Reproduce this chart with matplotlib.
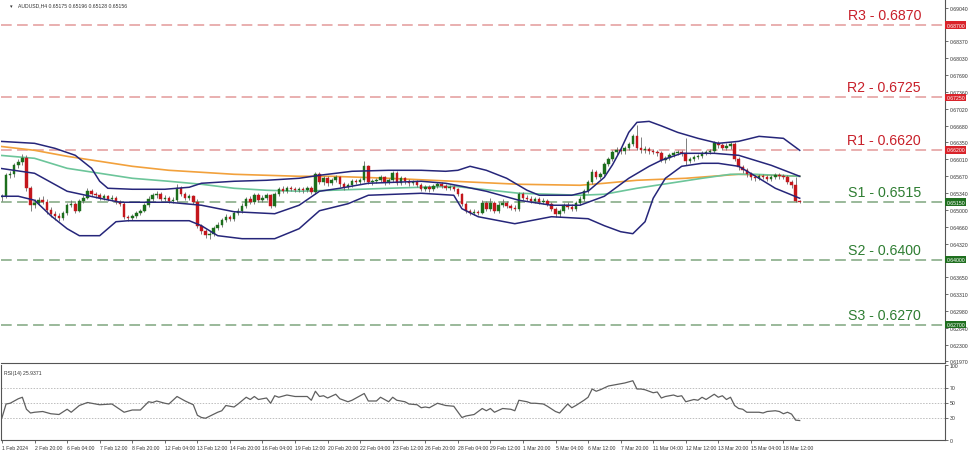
import matplotlib
matplotlib.use('Agg')
import matplotlib.pyplot as plt
import matplotlib.transforms as mtransforms

plt.rcParams['font.family'] = ['Liberation Sans', 'DejaVu Sans']

symbol = 'AUDUSD,H4'
last_ohlc = ['0.65175', '0.65196', '0.65128', '0.65156']
rsi_title = 'RSI(14) 25.9371'

opens = [0.6525, 0.6527, 0.6569, 0.6571, 0.6589, 0.6595, 0.6603, 0.6543, 0.6510, 0.6514,
         0.6520, 0.6516, 0.6500, 0.6492, 0.6488, 0.6484, 0.6494, 0.6510, 0.6512, 0.6498,
         0.6518, 0.6524, 0.6537, 0.6531, 0.6529, 0.6524, 0.6527, 0.6522, 0.6524, 0.6516,
         0.6512, 0.6486, 0.6484, 0.6488, 0.6494, 0.6498, 0.6510, 0.6522, 0.6529, 0.6531,
         0.6522, 0.6524, 0.6518, 0.6520, 0.6543, 0.6531, 0.6524, 0.6527, 0.6516, 0.6468,
         0.6458, 0.6450, 0.6452, 0.6464, 0.6470, 0.6480, 0.6486, 0.6482, 0.6494, 0.6498,
         0.6508, 0.6522, 0.6516, 0.6529, 0.6520, 0.6524, 0.6529, 0.6508, 0.6531, 0.6541,
         0.6537, 0.6543, 0.6541, 0.6539, 0.6541, 0.6539, 0.6543, 0.6535, 0.6571, 0.6555,
         0.6563, 0.6553, 0.6559, 0.6565, 0.6551, 0.6545, 0.6549, 0.6557, 0.6555, 0.6559,
         0.6587, 0.6555, 0.6557, 0.6559, 0.6565, 0.6555, 0.6559, 0.6573, 0.6553, 0.6563,
         0.6557, 0.6553, 0.6555, 0.6549, 0.6541, 0.6545, 0.6541, 0.6547, 0.6551, 0.6547,
         0.6543, 0.6545, 0.6541, 0.6531, 0.6512, 0.6498, 0.6494, 0.6496, 0.6494, 0.6514,
         0.6502, 0.6514, 0.6498, 0.6510, 0.6514, 0.6508, 0.6504, 0.6502, 0.6531, 0.6524,
         0.6522, 0.6518, 0.6522, 0.6516, 0.6518, 0.6512, 0.6502, 0.6492, 0.6498, 0.6510,
         0.6506, 0.6502, 0.6514, 0.6522, 0.6537, 0.6555, 0.6575, 0.6565, 0.6571, 0.6591,
         0.6601, 0.6615, 0.6619, 0.6617, 0.6623, 0.6631, 0.6647, 0.6623, 0.6619, 0.6621,
         0.6617, 0.6615, 0.6613, 0.6599, 0.6603, 0.6609, 0.6613, 0.6615, 0.6613, 0.6597,
         0.6601, 0.6605, 0.6607, 0.6613, 0.6615, 0.6617, 0.6633, 0.6629, 0.6623, 0.6627,
         0.6631, 0.6601, 0.6585, 0.6579, 0.6571, 0.6565, 0.6563, 0.6567, 0.6565, 0.6561,
         0.6565, 0.6569, 0.6567, 0.6565, 0.6555, 0.6549, 0.65175]

closes = [0.6527, 0.6569, 0.6571, 0.6589, 0.6595, 0.6603, 0.6543, 0.6510, 0.6514, 0.6520,
          0.6516, 0.6500, 0.6492, 0.6488, 0.6484, 0.6494, 0.6510, 0.6512, 0.6498, 0.6518,
          0.6524, 0.6537, 0.6531, 0.6529, 0.6524, 0.6527, 0.6522, 0.6524, 0.6516, 0.6512,
          0.6486, 0.6484, 0.6488, 0.6494, 0.6498, 0.6510, 0.6522, 0.6529, 0.6531, 0.6522,
          0.6524, 0.6518, 0.6520, 0.6543, 0.6531, 0.6524, 0.6527, 0.6516, 0.6468, 0.6458,
          0.6450, 0.6452, 0.6464, 0.6470, 0.6480, 0.6486, 0.6482, 0.6494, 0.6498, 0.6508,
          0.6522, 0.6516, 0.6529, 0.6520, 0.6524, 0.6529, 0.6508, 0.6531, 0.6541, 0.6537,
          0.6543, 0.6541, 0.6539, 0.6541, 0.6539, 0.6543, 0.6535, 0.6571, 0.6555, 0.6563,
          0.6553, 0.6559, 0.6565, 0.6551, 0.6545, 0.6549, 0.6557, 0.6555, 0.6559, 0.6587,
          0.6555, 0.6557, 0.6559, 0.6565, 0.6555, 0.6559, 0.6573, 0.6553, 0.6563, 0.6557,
          0.6553, 0.6555, 0.6549, 0.6541, 0.6545, 0.6541, 0.6547, 0.6551, 0.6547, 0.6543,
          0.6545, 0.6541, 0.6531, 0.6512, 0.6498, 0.6494, 0.6496, 0.6494, 0.6514, 0.6502,
          0.6514, 0.6498, 0.6510, 0.6514, 0.6508, 0.6504, 0.6502, 0.6531, 0.6524, 0.6522,
          0.6518, 0.6522, 0.6516, 0.6518, 0.6512, 0.6502, 0.6492, 0.6498, 0.6510, 0.6506,
          0.6502, 0.6514, 0.6522, 0.6537, 0.6555, 0.6575, 0.6565, 0.6571, 0.6591, 0.6601,
          0.6615, 0.6619, 0.6617, 0.6623, 0.6631, 0.6647, 0.6623, 0.6619, 0.6621, 0.6617,
          0.6615, 0.6613, 0.6599, 0.6603, 0.6609, 0.6613, 0.6615, 0.6613, 0.6597, 0.6601,
          0.6605, 0.6607, 0.6613, 0.6615, 0.6617, 0.6633, 0.6629, 0.6623, 0.6627, 0.6631,
          0.6601, 0.6585, 0.6579, 0.6571, 0.6565, 0.6563, 0.6567, 0.6565, 0.6561, 0.6565,
          0.6569, 0.6567, 0.6565, 0.6555, 0.6549, 0.65175, 0.65156]

highs = [0.6532, 0.6573, 0.6578, 0.6594, 0.6601, 0.6612, 0.6609, 0.6548, 0.6521, 0.6526,
         0.6527, 0.6521, 0.6505, 0.6497, 0.6493, 0.6498, 0.6514, 0.6519, 0.6516, 0.6522,
         0.6529, 0.6544, 0.6542, 0.6536, 0.6533, 0.6532, 0.6530, 0.6529, 0.6527, 0.6520,
         0.6515, 0.6490, 0.6492, 0.6497, 0.6502, 0.6514, 0.6527, 0.6534, 0.6537, 0.6535,
         0.6529, 0.6528, 0.6525, 0.6552, 0.6547, 0.6535, 0.6532, 0.6530, 0.6522, 0.6472,
         0.6462, 0.6457, 0.6468, 0.6475, 0.6484, 0.6491, 0.6490, 0.6498, 0.6503, 0.6513,
         0.6526, 0.6527, 0.6533, 0.6533, 0.6529, 0.6534, 0.6532, 0.6536, 0.6546, 0.6548,
         0.6547, 0.6547, 0.6545, 0.6545, 0.6546, 0.6548, 0.6547, 0.6576, 0.6575, 0.6568,
         0.6567, 0.6564, 0.6570, 0.6568, 0.6555, 0.6554, 0.6561, 0.6562, 0.6564, 0.6597,
         0.6590, 0.6562, 0.6564, 0.6569, 0.6568, 0.6564, 0.6578, 0.6577, 0.6567, 0.6566,
         0.6561, 0.6560, 0.6559, 0.6553, 0.6550, 0.6549, 0.6551, 0.6556, 0.6555, 0.6551,
         0.6549, 0.6549, 0.6544, 0.6534, 0.6515, 0.6502, 0.6501, 0.6500, 0.6519, 0.6517,
         0.6523, 0.6518, 0.6515, 0.6521, 0.6518, 0.6512, 0.6509, 0.6536, 0.6535, 0.6529,
         0.6527, 0.6526, 0.6526, 0.6523, 0.6522, 0.6515, 0.6505, 0.6502, 0.6514, 0.6515,
         0.6511, 0.6518, 0.6527, 0.6541, 0.6559, 0.6581, 0.6580, 0.6576, 0.6595, 0.6606,
         0.6620, 0.6625, 0.6624, 0.6628, 0.6636, 0.6652, 0.6669, 0.6645, 0.6627, 0.6625,
         0.6622, 0.6620, 0.6617, 0.6607, 0.6613, 0.6618, 0.6620, 0.6620, 0.6643, 0.6606,
         0.6610, 0.6612, 0.6617, 0.6620, 0.6622, 0.6638, 0.6637, 0.6634, 0.6633, 0.6636,
         0.6635, 0.6605, 0.6590, 0.6583, 0.6575, 0.6570, 0.6572, 0.6571, 0.6569, 0.6569,
         0.6573, 0.6573, 0.6572, 0.6569, 0.6559, 0.6566, 0.65196]

lows = [0.6518, 0.6524, 0.6563, 0.6566, 0.6584, 0.6590, 0.6538, 0.6497, 0.6504, 0.6509,
        0.6511, 0.6492, 0.6486, 0.6480, 0.6478, 0.6479, 0.6490, 0.6505, 0.6494, 0.6495,
        0.6514, 0.6521, 0.6527, 0.6524, 0.6519, 0.6520, 0.6517, 0.6518, 0.6512, 0.6507,
        0.6482, 0.6478, 0.6480, 0.6484, 0.6490, 0.6495, 0.6506, 0.6518, 0.6524, 0.6518,
        0.6517, 0.6514, 0.6513, 0.6516, 0.6527, 0.6520, 0.6520, 0.6512, 0.6464, 0.6452,
        0.6443, 0.6442, 0.6447, 0.6460, 0.6466, 0.6476, 0.6477, 0.6478, 0.6490, 0.6494,
        0.6504, 0.6511, 0.6512, 0.6515, 0.6516, 0.6519, 0.6503, 0.6505, 0.6527, 0.6533,
        0.6533, 0.6537, 0.6535, 0.6535, 0.6534, 0.6535, 0.6531, 0.6531, 0.6551, 0.6550,
        0.6548, 0.6549, 0.6555, 0.6546, 0.6540, 0.6541, 0.6545, 0.6551, 0.6551, 0.6556,
        0.6551, 0.6550, 0.6553, 0.6555, 0.6550, 0.6551, 0.6555, 0.6549, 0.6550, 0.6552,
        0.6548, 0.6549, 0.6545, 0.6537, 0.6537, 0.6536, 0.6537, 0.6543, 0.6543, 0.6539,
        0.6539, 0.6537, 0.6527, 0.6508, 0.6493, 0.6489, 0.6490, 0.6489, 0.6491, 0.6498,
        0.6498, 0.6493, 0.6494, 0.6506, 0.6503, 0.6499, 0.6497, 0.6498, 0.6520, 0.6518,
        0.6514, 0.6514, 0.6512, 0.6512, 0.6508, 0.6498, 0.6486, 0.6486, 0.6494, 0.6502,
        0.6498, 0.6498, 0.6510, 0.6518, 0.6533, 0.6551, 0.6561, 0.6561, 0.6567, 0.6587,
        0.6597, 0.6610, 0.6612, 0.6612, 0.6619, 0.6627, 0.6619, 0.6614, 0.6614, 0.6612,
        0.6611, 0.6608, 0.6595, 0.6594, 0.6599, 0.6605, 0.6609, 0.6608, 0.6590, 0.6593,
        0.6597, 0.6601, 0.6603, 0.6609, 0.6611, 0.6613, 0.6624, 0.6619, 0.6619, 0.6622,
        0.6597, 0.6580, 0.6574, 0.6566, 0.6560, 0.6558, 0.6559, 0.6561, 0.6557, 0.6557,
        0.6561, 0.6562, 0.6561, 0.6551, 0.6544, 0.65150, 0.65128]

# Bollinger bands (20,2) and moving averages, read at sample bars
bb_upper_bar = [-0.5, 8, 13, 18, 22, 24, 26, 32, 40, 46, 49, 57, 65, 73, 78, 86, 95, 103, 109,
                112, 115, 119, 124, 129, 132, 140, 144, 148, 150, 152, 154, 156, 159, 162, 166,
                171, 176, 181, 186, 192, 196]
bb_upper_val = [0.6637, 0.6633, 0.6623, 0.6609, 0.6583, 0.6557, 0.6543, 0.6541, 0.6541, 0.6545,
                0.6553, 0.6557, 0.6559, 0.6563, 0.6569, 0.6577, 0.6579, 0.6579, 0.6577, 0.6579,
                0.6587, 0.6579, 0.6563, 0.6539, 0.6529, 0.6529, 0.6537, 0.6565, 0.6590, 0.6620,
                0.6655, 0.6675, 0.6677, 0.6668, 0.6655, 0.6643, 0.6633, 0.6637, 0.6647, 0.6643,
                0.6619]
bb_mid_bar = [-0.5, 8, 16, 24, 29, 41, 49, 57, 67, 73, 78, 83, 90, 103, 109, 113, 119, 127, 135,
              142, 148, 154, 159, 162, 167, 175, 181, 189, 196]
bb_mid_val = [0.6583, 0.6573, 0.6537, 0.6523, 0.6515, 0.6515, 0.6509, 0.6496, 0.6492, 0.6509,
              0.6537, 0.6543, 0.6553, 0.6557, 0.6553, 0.6547, 0.6537, 0.6519, 0.6509, 0.6509,
              0.6527, 0.6563, 0.6587, 0.6599, 0.6613, 0.6613, 0.6609, 0.6589, 0.6567]
bb_low_bar = [-0.5, 4, 8, 12, 16, 19, 24, 28, 31, 41, 46, 49, 53, 59, 67, 73, 78, 85, 90, 103,
              111, 113, 117, 126, 135, 144, 148, 152, 155, 158, 160, 163, 167, 172, 176, 181,
              186, 190, 196]
bb_low_val = [0.6527, 0.6527, 0.6519, 0.6488, 0.6462, 0.6448, 0.6448, 0.6476, 0.6478, 0.6478,
              0.6478, 0.6468, 0.6448, 0.6442, 0.6442, 0.6462, 0.6498, 0.6512, 0.6529, 0.6533,
              0.6529, 0.6502, 0.6486, 0.6472, 0.6486, 0.6482, 0.6468, 0.6456, 0.6452, 0.6476,
              0.6523, 0.6563, 0.6587, 0.6593, 0.6593, 0.6587, 0.6563, 0.6543, 0.6523]
ma_orange_bar = [-0.5, 8, 16, 24, 32, 41, 49, 57, 65, 73, 81, 95, 111, 127, 142, 148, 156, 168,
                 181, 189, 196]
ma_orange_val = [0.6627, 0.6619, 0.6607, 0.6597, 0.6587, 0.6579, 0.6575, 0.6571, 0.6569, 0.6567,
                 0.6567, 0.6563, 0.6557, 0.6551, 0.6549, 0.6553, 0.6559, 0.6563, 0.6571, 0.6569,
                 0.6567]
ma_green_bar = [-0.5, 8, 16, 24, 32, 41, 49, 57, 65, 73, 81, 95, 111, 127, 142, 148, 156, 164,
                172, 179, 185, 196]
ma_green_val = [0.6609, 0.6603, 0.6583, 0.6573, 0.6563, 0.6557, 0.6551, 0.6543, 0.6539, 0.6537,
                0.6539, 0.6543, 0.6547, 0.6533, 0.6529, 0.6531, 0.6543, 0.6553, 0.6563, 0.6571,
                0.6571, 0.6567]

rsi_bar = [0, 1, 2, 3, 4, 5, 6, 7, 8, 10, 12, 14, 16, 17, 19, 21, 24, 27, 30, 32, 34, 36, 37, 38,
           40, 41, 43, 45, 47, 48, 49, 50, 53, 54, 55, 57, 58, 60, 61, 62, 63, 65, 66, 67, 68, 70,
           72, 75, 76, 77, 78, 79, 80, 82, 83, 85, 86, 89, 90, 92, 93, 95, 96, 97, 99, 100, 102,
           103, 104, 105, 107, 109, 111, 113, 114, 116, 118, 119, 120, 121, 123, 125, 126, 127,
           129, 130, 131, 133, 134, 136, 137, 139, 140, 141, 143, 144, 145, 146, 147, 149, 152,
           153, 155, 156, 157, 158, 160, 161, 162, 163, 165, 166, 167, 168, 170, 171, 172, 173,
           175, 176, 177, 178, 179, 180, 181, 182, 183, 184, 186, 187, 188, 190, 191, 192, 193,
           194, 195, 196]
rsi_val = [30, 48, 49, 52, 55, 57, 41, 36, 37, 38, 35, 34, 41, 37, 46, 50, 47, 48, 37, 40, 40, 51,
           50, 52, 49, 48, 58, 52, 47, 33, 30, 29, 37, 39, 46, 44, 48, 57, 54, 58, 54, 56, 49, 59,
           57, 60, 58, 58, 53, 65, 58, 59, 56, 61, 55, 51, 53, 62, 52, 52, 57, 51, 57, 53, 51, 48,
           47, 43, 44, 43, 49, 46, 45, 30, 32, 34, 42, 39, 42, 37, 42, 41, 39, 53, 51, 49, 49, 48,
           45, 38, 36, 48, 43, 46, 53, 57, 68, 65, 67, 72, 75, 76, 79, 68, 68, 67, 63, 64, 56, 58,
           60, 58, 59, 51, 54, 53, 57, 54, 61, 57, 59, 54, 57, 46, 42, 41, 37, 37, 37, 36, 38, 39,
           38, 35, 37, 34.5, 26.5, 25.94]

level_names = ['R3', 'R2', 'R1', 'S1', 'S2', 'S3']
level_values = [0.6870, 0.6725, 0.6620, 0.6515, 0.6400, 0.6270]
level_axis_tags = ['0.68700', '0.67250', '0.66200', '0.65150', '0.64000', '0.62700']

price_ticks = [0.69040, 0.68700, 0.68370, 0.68030, 0.67690, 0.67360, 0.67020, 0.66680, 0.66350,
               0.66010, 0.65670, 0.65340, 0.65000, 0.64660, 0.64320, 0.63990, 0.63650, 0.63310,
               0.62980, 0.62640, 0.62300, 0.61970]
# tick labels hidden under the level tags on the price scale
hidden_tick_labels = [0.68700, 0.63990]
rsi_ticks = [100, 70, 50, 30, 0]
time_labels = ['1 Feb 2024', '2 Feb 20:00', '6 Feb 04:00', '7 Feb 12:00', '8 Feb 20:00',
               '12 Feb 04:00', '13 Feb 12:00', '14 Feb 20:00', '16 Feb 04:00', '19 Feb 12:00',
               '20 Feb 20:00', '22 Feb 04:00', '23 Feb 12:00', '26 Feb 20:00', '28 Feb 04:00',
               '29 Feb 12:00', '1 Mar 20:00', '5 Mar 04:00', '6 Mar 12:00', '7 Mar 20:00',
               '11 Mar 04:00', '12 Mar 12:00', '13 Mar 20:00', '15 Mar 04:00', '18 Mar 12:00']
time_label_bars = [0, 8, 16, 24, 32, 40, 48, 56, 64, 72, 80, 88, 96, 104, 112, 120, 128, 136,
                   144, 152, 160, 168, 176, 184, 192]

# ---------------- styles ----------------
W, H = 975, 452
C_UP = '#1c6e1c'
C_DN = '#c4161c'
C_WICK = '#6a6a6a'
C_BB = '#26267a'
C_OR = '#f2a13c'
C_GR = '#6cc59a'
C_RLINE = '#e39a9a'
C_SLINE = '#7ea67e'
C_RTXT = '#c8202a'
C_STXT = '#2e7d32'
C_RBOX = '#d9232a'
C_SBOX = '#1f6f1f'
SMALL = 3.7

fig = plt.figure(figsize=(W / 100, H / 100), dpi=100)
fig.patch.set_facecolor('white')

def frac_box(x0, y0, x1, y1):
    return [x0 / W, 1 - y1 / H, (x1 - x0) / W, (y1 - y0) / H]

ax = fig.add_axes(frac_box(1, 1, 945, 364))
axr = fig.add_axes(frac_box(1, 366, 945, 441), sharex=ax)

n = len(closes)
xs = list(range(n))

# candles
ax.vlines(xs, lows, highs, color=C_WICK, linewidth=0.6, zorder=3)
body_bottom = [min(o, c) for o, c in zip(opens, closes)]
body_height = [max(abs(c - o), 0.00003) for o, c in zip(opens, closes)]
body_color = [C_UP if c >= o else C_DN for o, c in zip(opens, closes)]
ax.bar(xs, body_height, bottom=body_bottom, width=0.62, color=body_color,
       edgecolor=body_color, linewidth=0.3, zorder=4)

# indicators
ax.plot(bb_upper_bar, bb_upper_val, color=C_BB, lw=1.1, zorder=5)
ax.plot(bb_mid_bar, bb_mid_val, color=C_BB, lw=1.1, zorder=5)
ax.plot(bb_low_bar, bb_low_val, color=C_BB, lw=1.1, zorder=5)
ax.plot(ma_orange_bar, ma_orange_val, color=C_OR, lw=1.2, zorder=2)
ax.plot(ma_green_bar, ma_green_val, color=C_GR, lw=1.2, zorder=2)

xmin, xmax = -0.25, 231.7
ax.set_xlim(xmin, xmax)
ax.set_ylim(0.61930, 0.69201)

blend = mtransforms.blended_transform_factory(ax.transAxes, ax.transData)
for name, val, tag in zip(level_names, level_values, level_axis_tags):
    is_r = name.startswith('R')
    ax.axhline(val, color=C_RLINE if is_r else C_SLINE, lw=1.1, dashes=(7, 3.5), zorder=1)
    ax.annotate(f'{name} - {val:.4f}', xy=(0.9745, val), xycoords=blend,
                xytext=(0, 2.2), textcoords='offset points', ha='right', va='bottom',
                fontsize=10.2, color=C_RTXT if is_r else C_STXT, zorder=6)
    ax.text(1.0015, val, tag, transform=blend, ha='left', va='center', fontsize=SMALL,
            color='white', clip_on=False, zorder=10,
            bbox=dict(boxstyle='square,pad=0.25', fc=C_RBOX if is_r else C_SBOX, ec='none'))

ax.yaxis.tick_right()
ax.set_yticks(price_ticks)
ax.set_yticklabels(['' if t in hidden_tick_labels else f'{t:.5f}' for t in price_ticks])
ax.tick_params(axis='y', labelsize=SMALL, length=2, width=0.5, pad=1.5, colors='#333333')
ax.tick_params(axis='x', bottom=False, labelbottom=False)
for s in ['top', 'left']:
    ax.spines[s].set_visible(False)
for s in ['right', 'bottom']:
    ax.spines[s].set_color('#555555')
    ax.spines[s].set_linewidth(0.8)

# header
ax.text(0.009, 0.986, '\u25be', transform=ax.transAxes, fontsize=SMALL, color='#333333',
        ha='left', va='center', family=['DejaVu Sans'])
ax.text(0.0095 + 0.0085, 0.986, symbol + ' ' + ' '.join(last_ohlc), transform=ax.transAxes,
        fontsize=SMALL, color='#333333', ha='left', va='center')

# RSI panel
for lv in [70, 50, 30]:
    axr.axhline(lv, color='#bdbdbd', lw=0.7, linestyle=(0, (1.5, 1.5)), zorder=1)
axr.plot(rsi_bar, rsi_val, color='#5f5f5f', lw=0.9, zorder=3)
axr.set_ylim(0, 100)
axr.yaxis.tick_right()
axr.set_yticks(rsi_ticks)
axr.set_yticklabels([str(t) for t in rsi_ticks])
axr.tick_params(axis='y', labelsize=SMALL, length=2, width=0.5, pad=1.5, colors='#333333')
axr.set_xticks(time_label_bars)
axr.set_xticklabels(time_labels)
axr.tick_params(axis='x', labelsize=SMALL, length=2, width=0.5, pad=1.5, colors='#333333')
for lab in axr.get_xticklabels():
    lab.set_ha('left')
axr.spines['top'].set_visible(False)
for s in ['right', 'bottom', 'left']:
    axr.spines[s].set_color('#555555')
    axr.spines[s].set_linewidth(0.8)
axr.text(0.003, 0.93, rsi_title, transform=axr.transAxes, fontsize=SMALL, color='#333333',
         ha='left', va='top')
axr.set_xlim(xmin, xmax)

fig.savefig('out.png', dpi=100, facecolor='white')
